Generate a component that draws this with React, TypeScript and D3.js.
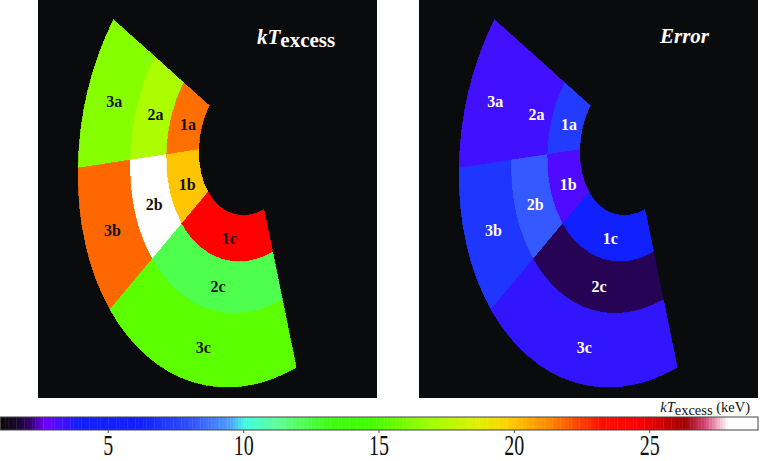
import React from 'react';
import * as d3 from 'd3';

// region names: ring number (1 = inner) + sector letter
const regionNames = ['1a', '2a', '3a', '1b', '2b', '3b', '1c', '2c', '3c'];
const kTValues = [21.7, 17.2, 16.3, 20.0, 28.6, 21.8, 24.5, 12.3, 15.3];
const errorValues = [7.2, 3.3, 3.3, 3.1, 8.2, 7.0, 6.0, 1.9, 3.5];

// ring edges as fraction of the outer radius, sector edges in degrees (d3.arc convention)
const ringEdges = [0.30, 0.49, 0.70, 1.0];
const sectorEdges = [-67, -103, -140, -210];

// colour map
const cmapValues = [1, 1.55, 2.11, 2.66, 3.96, 6.17, 8.02, 9.5, 10.05, 11.34, 13.19, 14.67, 16.9, 18.7, 19.77, 21.3, 23.2, 24.6, 26.3, 27.0, 27.9, 29];
const cmapColors = ['#0a0a0a', '#160824', '#300070', '#7000ff', '#1020ff', '#1020ff', '#3050ff', '#50a0ff', '#40ffe0', '#60ff90', '#40ff10', '#40ff00', '#a0ff00', '#e0f000', '#ffd000', '#ff8800', '#ff1000', '#ff0000', '#a00000', '#d04070', '#ffffff', '#ffffff'];
const tickValues = [5, 10, 15, 20, 25];

const W = 763;
const H = 461;
const FONT = '"Liberation Serif", "Times New Roman", serif';

const color = d3.scaleLinear<string>().domain(cmapValues).range(cmapColors).clamp(true);
const xBar = d3.scaleLinear().domain([1, 29]).range([0, 758]);

const panelW = 339;
const panelH = 398;
// shape geometry inside a panel
const cx = 212, cy = 142, ax = 169, by = 247, tilt = 10;

const rad = (deg: number) => (deg * Math.PI) / 180;
const arc = d3.arc<{ r0: number; r1: number; a0: number; a1: number }>()
  .innerRadius(d => d.r0)
  .outerRadius(d => d.r1)
  .startAngle(d => rad(d.a0))
  .endAngle(d => rad(d.a1));

function project(r: number, deg: number): [number, number] {
  const x = r * Math.sin(rad(deg)) * ax;
  const y = -r * Math.cos(rad(deg)) * by;
  const t = rad(tilt);
  return [cx + x * Math.cos(t) - y * Math.sin(t), cy + x * Math.sin(t) + y * Math.cos(t)];
}

function Panel({ x0, values, labelColor, title }: { x0: number; values: number[]; labelColor: string; title: React.ReactNode }) {
  const cells = regionNames.map((name, i) => {
    const ring = +name[0] - 1;
    const sector = 'abc'.indexOf(name[1]);
    return {
      name,
      value: values[i],
      r0: ringEdges[ring],
      r1: ringEdges[ring + 1],
      a0: sectorEdges[sector + 1],
      a1: sectorEdges[sector],
    };
  });
  return (
    <g transform={`translate(${x0},0)`}>
      <rect width={panelW} height={panelH} fill="#0a0b0d" />
      <g transform={`translate(${cx},${cy}) rotate(${tilt}) scale(${ax},${by})`}>
        {cells.map(c => (
          <path key={c.name} d={arc(c) || ''} fill={color(c.value)} stroke={color(c.value)} strokeWidth={0.004} shapeRendering="crispEdges" />
        ))}
      </g>
      {cells.map(c => {
        const [lx, ly] = project((c.r0 + c.r1) / 2, (c.a0 + c.a1) / 2);
        return (
          <text key={c.name} x={lx + 2} y={ly + 2} dy="0.35em" textAnchor="middle" fontFamily={FONT} fontWeight="bold" fontSize={16} fill={labelColor}>
            {c.name}
          </text>
        );
      })}
      {title}
    </g>
  );
}

export default function App() {
  const steps = d3.range(1, 29, 0.1);
  const barY = 417;
  const barH = 13;
  return (
    <div style={{ position: 'absolute', left: 0, top: 0 }}>
      <svg width={W} height={H} style={{ display: 'block', background: '#fff' }}>
        <Panel
          x0={38}
          values={kTValues}
          labelColor="#111"
          title={
            <text x={219} y={44} fontFamily={FONT} fontWeight="bold" fontSize={21} fill="#fff">
              <tspan fontStyle="italic">kT</tspan>
              <tspan dy={3}>excess</tspan>
            </text>
          }
        />
        <Panel
          x0={419}
          values={errorValues}
          labelColor="#fff"
          title={
            <text x={241} y={43} fontFamily={FONT} fontWeight="bold" fontStyle="italic" fontSize={21} fill="#fff">
              Error
            </text>
          }
        />
        <g>
          {steps.map(v => (
            <rect key={v} x={xBar(v)} y={barY} width={xBar(v + 0.1) - xBar(v) + 0.4} height={barH} fill={color(v + 0.05)} />
          ))}
          <rect x={0.5} y={barY} width={xBar(29) - 0.5} height={barH} fill="none" stroke="#444" strokeWidth={1} />
          {tickValues.map(t => (
            <g key={t} transform={`translate(${xBar(t)},0)`}>
              <line y1={barY + barH} y2={barY + barH + 3} stroke="#555" />
              <text transform={`translate(0,455) scale(1,1.45)`} textAnchor="middle" fontFamily={FONT} fontSize={20} fill="#111">
                {t}
              </text>
            </g>
          ))}
          <text x={750} y={412} textAnchor="end" fontFamily={FONT} fontSize={14.5} fill="#111">
            <tspan fontStyle="italic">kT</tspan>
            <tspan dy={3}>excess</tspan>
            <tspan dy={-3}> (keV)</tspan>
          </text>
        </g>
      </svg>
    </div>
  );
}
